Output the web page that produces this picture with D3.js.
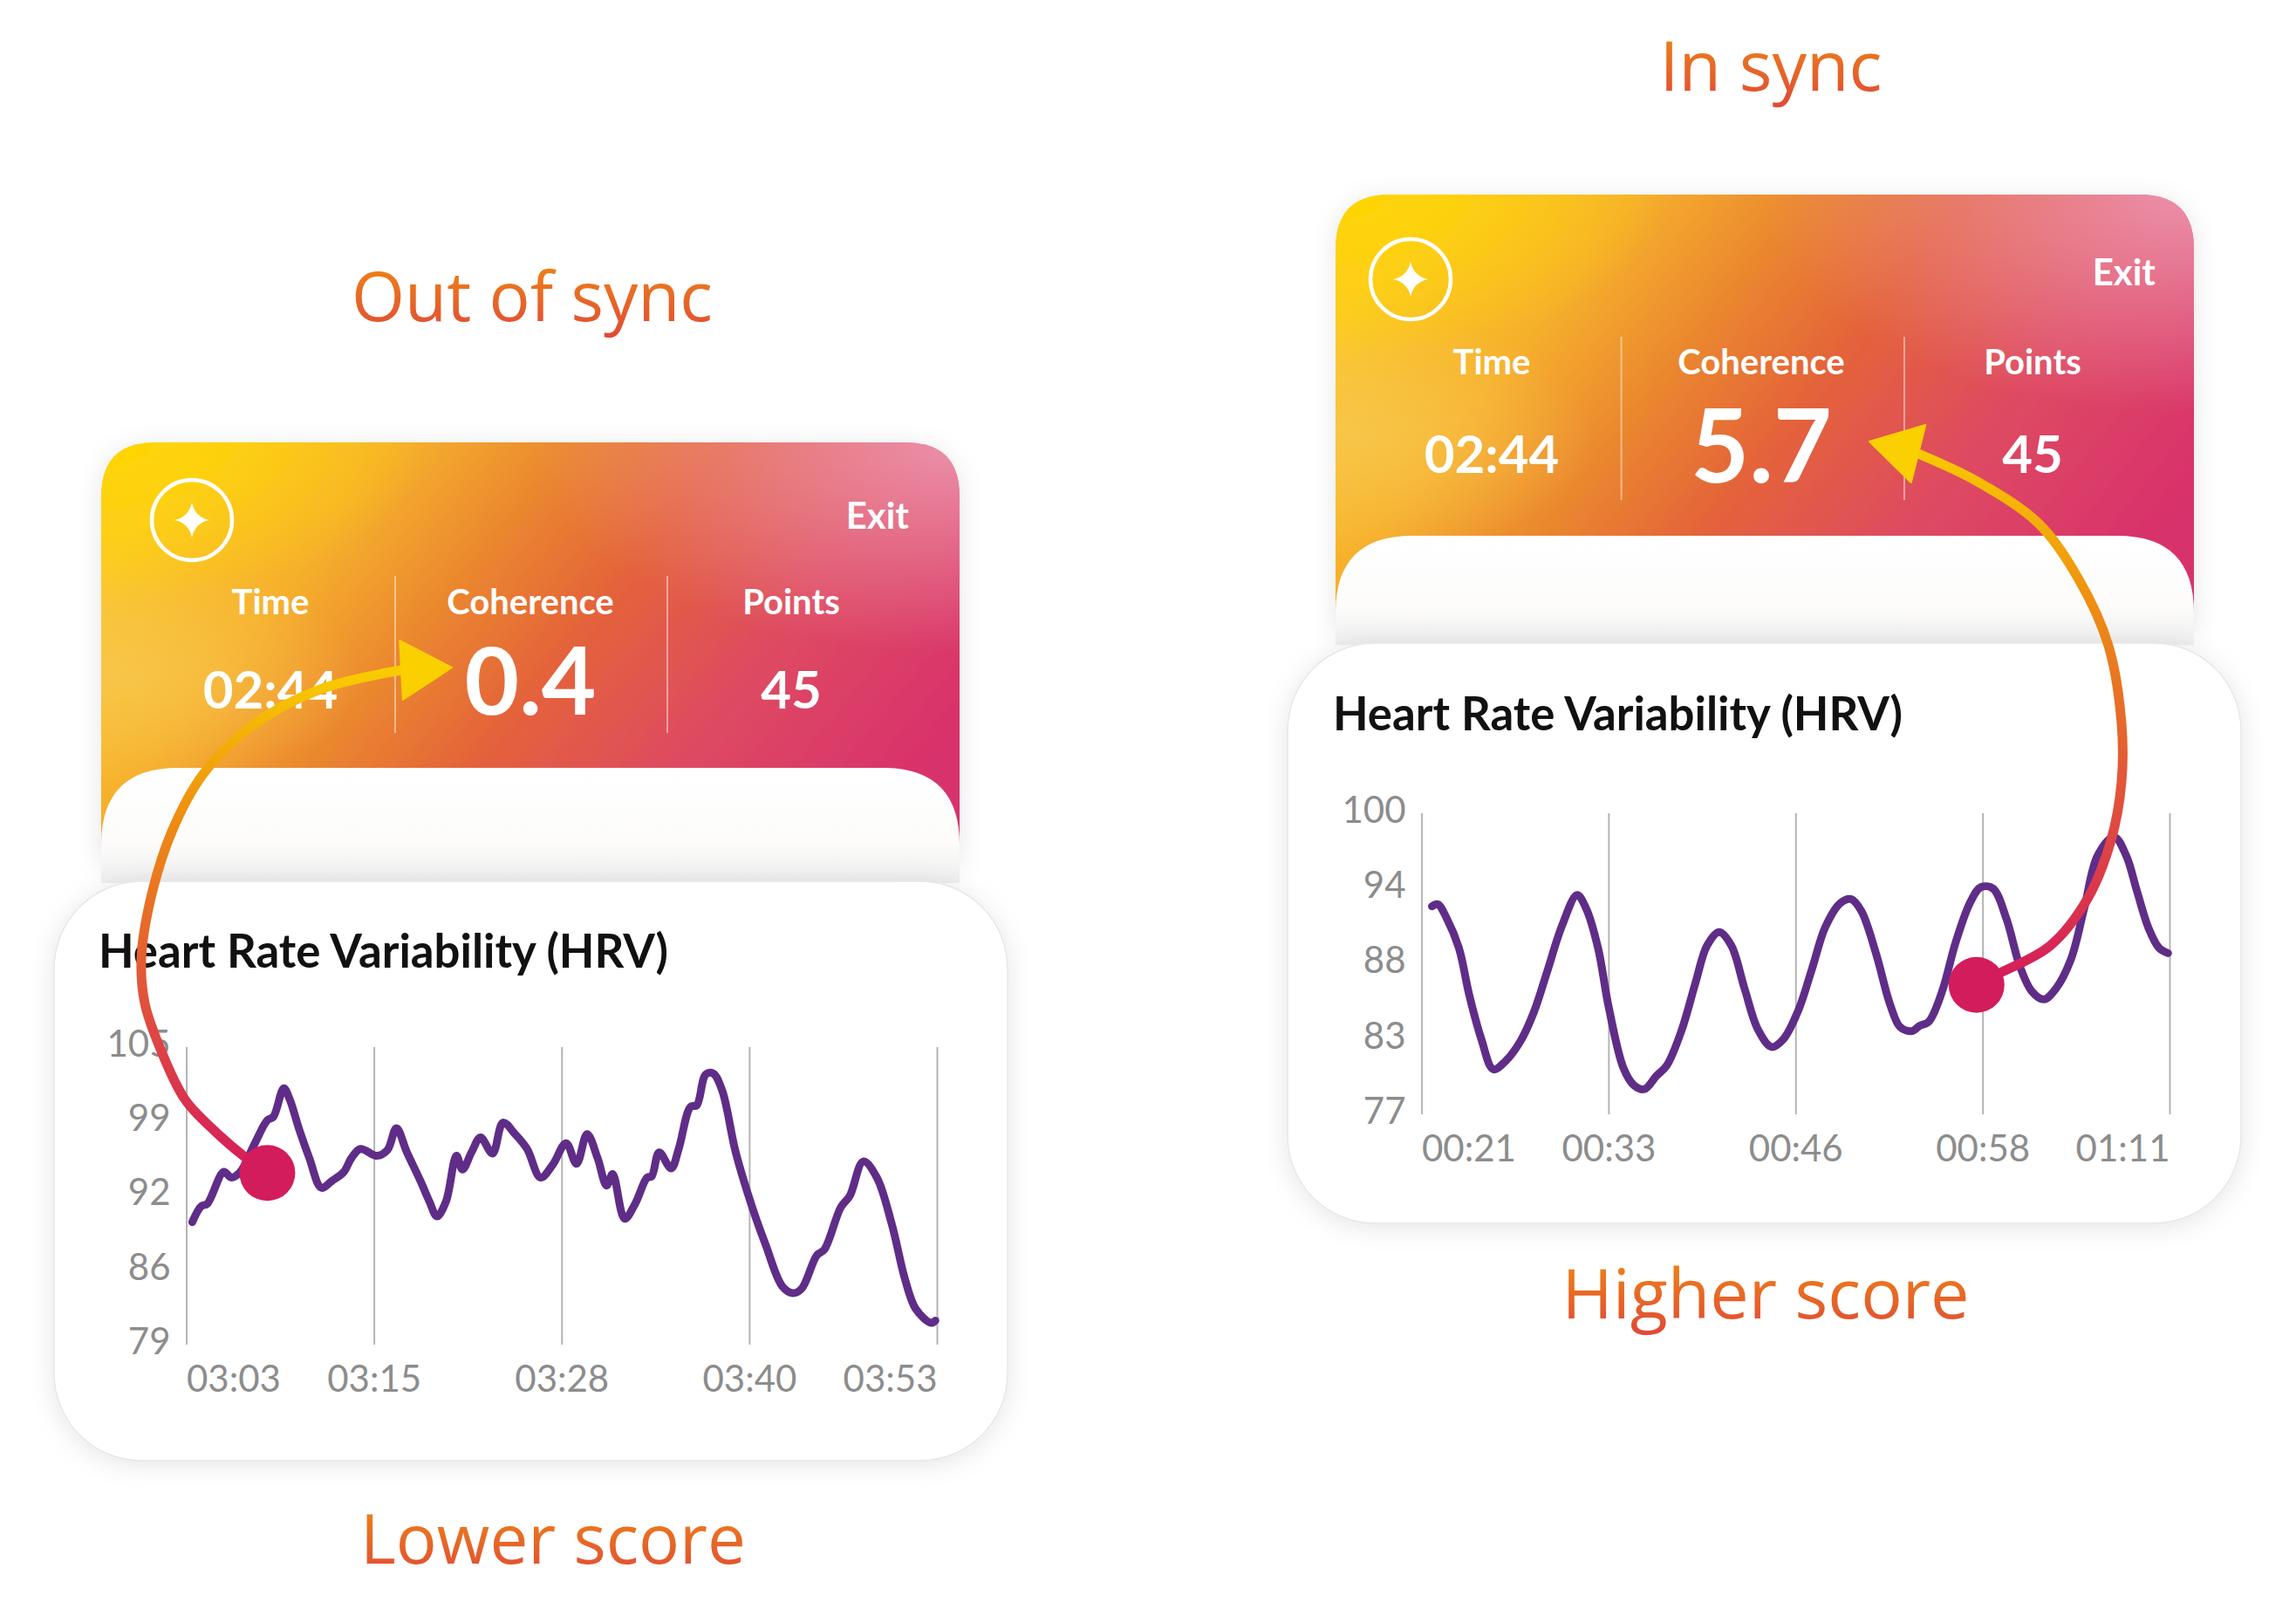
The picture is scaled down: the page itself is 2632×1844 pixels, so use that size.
<!DOCTYPE html>
<html>
<head>
<meta charset="utf-8">
<script src="https://cdn.jsdelivr.net/npm/d3@7"></script>
<style>
  body { margin: 0; background: #fff; }
  svg { display: block; }
</style>
</head>
<body>
<svg id="chart"></svg>
<script>
// ---- data ----
var statNames = ["Time", "Coherence", "Points"];
var leftStatValues = ["02:44", "0.4", "45"];
var rightStatValues = ["02:44", "5.7", "45"];
var chartTitle = "Heart Rate Variability (HRV)";
var captions = ["Out of sync", "Lower score", "In sync", "Higher score"];

// out of sync session (seconds, bpm)
var leftSeconds = [183.4,184.0,184.4,185.5,186.0,186.6,187.5,188.4,188.8,189.5,189.9,190.5,191.2,192.0,192.7,193.5,194.0,194.6,195.7,196.4,197.0,197.7,198.6,199.2,199.7,200.3,201.0,201.4,202.0,202.6,203.4,204.1,204.9,205.7,206.6,207.4,208.3,209.0,209.7,210.4,211.0,211.4,212.2,212.9,213.7,214.0,214.5,215.3,215.8,216.6,217.0,217.6,218.1,218.7,219.6,220.7,221.6,222.7,223.4,224.0,225.0,225.5,226.6,227.2,228.1,229.0,230.0,230.9,231.6,232.6,232.9];
var leftHrv = [89.7,91.1,91.3,94.1,93.6,94.1,96.4,98.6,98.9,101.4,100.4,97.9,95.3,92.7,93.3,94.1,95.3,96.1,95.5,96.0,97.9,95.8,93.3,91.5,90.2,91.5,95.5,94.3,95.8,97.1,95.7,98.4,97.4,96.1,93.6,94.7,96.6,94.8,97.4,95.3,92.9,93.9,90.0,91.3,93.6,93.7,95.8,94.4,96.1,99.8,99.9,102.6,102.7,101.2,95.8,91.0,87.7,84.1,83.5,83.9,86.8,87.3,91.0,92.0,95.0,93.6,89.5,84.6,82.1,80.9,81.1];
var leftXDomain = [183, 233];
var leftYDomain = [79, 105];
var leftXLabels = ["03:03", "03:15", "03:28", "03:40", "03:53"];
var leftYLabels = ["79", "86", "92", "99", "105"];
var leftMarker = [188.4, 94.0];

// in sync session
var rightSeconds = [21.7,22.1,22.7,23.5,24.2,25.0,25.8,26.6,27.6,28.5,29.4,30.4,31.4,32.0,32.8,33.5,34.5,35.2,35.9,36.7,37.4,38.4,39.3,40.1,40.9,41.7,42.6,43.5,44.4,45.2,46.2,47.1,48.0,49.0,49.7,50.4,51.4,52.3,53.0,53.8,54.3,54.9,55.8,56.7,57.7,58.4,59.2,60.1,61.0,61.8,62.6,63.4,64.4,65.3,66.2,67.3,68.1,68.8,69.6,70.3,70.9];
var rightHrv = [92.75,92.9,91.8,89.6,86.0,82.7,80.4,81.0,82.5,84.7,87.8,91.3,93.6,92.6,89.6,85.2,80.5,79.2,78.9,79.9,80.7,83.4,86.9,89.8,90.8,89.8,86.5,83.4,82.1,82.7,84.9,88.0,91.2,93.0,93.3,92.4,89.1,85.4,83.6,83.3,83.7,84.0,86.3,90.0,93.1,94.2,94.1,91.8,88.2,86.3,85.7,86.5,88.7,92.6,96.6,98.0,96.6,94.0,91.1,89.6,89.2];
var rightXDomain = [21, 71];
var rightYDomain = [77, 99.8];
var rightXLabels = ["00:21", "00:33", "00:46", "00:58", "01:11"];
var rightYLabels = ["77", "83", "88", "94", "100"];
var rightMarker = [58.1, 86.8];

// ---- layout ----
var W = 2632, H = 1844;
var svg = d3.select("#chart").attr("width", W).attr("height", H)
  .attr("viewBox", "0 0 " + W + " " + H);
var defs = svg.append("defs");

function addStops(grad, stops) {
  stops.forEach(function(s) {
    grad.append("stop").attr("offset", s[0]).attr("stop-color", s[1])
      .attr("stop-opacity", s[2] == null ? 1 : s[2]);
  });
}

addStops(defs.append("linearGradient").attr("id", "hdrBase")
  .attr("x1", 0).attr("y1", 0.3).attr("x2", 1).attr("y2", 0.7),
  [[0, "#fbc92a"], [0.2, "#f6b02c"], [0.38, "#ea852f"], [0.53, "#e4633a"], [0.74, "#de4a62"], [1, "#d8306c"]]);
addStops(defs.append("radialGradient").attr("id", "hdrPink")
  .attr("cx", 1).attr("cy", 0).attr("r", 0.5),
  [[0, "#efa2bb", 0.8], [1, "#efa2bb", 0]]);
addStops(defs.append("radialGradient").attr("id", "hdrYellow")
  .attr("cx", 0).attr("cy", 0).attr("r", 0.38),
  [[0, "#ffd600", 1], [1, "#ffd600", 0]]);
addStops(defs.append("radialGradient").attr("id", "hdrLeft")
  .attr("cx", 0.02).attr("cy", 0.55).attr("r", 0.28),
  [[0, "#f8c852", 0.75], [1, "#f8c852", 0]]);
addStops(defs.append("linearGradient").attr("id", "sheetGrad")
  .attr("x1", 0).attr("y1", 0).attr("x2", 0).attr("y2", 1),
  [[0, "#ffffff"], [0.65, "#fdfcfb"], [1, "#eeeeee"]]);
addStops(defs.append("linearGradient").attr("id", "capGrad")
  .attr("x1", 0).attr("y1", 0).attr("x2", 0).attr("y2", 1),
  [[0, "#f19010"], [1, "#df4638"]]);

var shadow = defs.append("filter").attr("id", "shadow")
  .attr("x", -0.1).attr("y", -0.1).attr("width", 1.2).attr("height", 1.3);
shadow.append("feDropShadow").attr("dx", 0).attr("dy", 4).attr("stdDeviation", 14)
  .attr("flood-color", "#000").attr("flood-opacity", 0.1);

function topRounded(x, y, w, h, r) {
  return "M" + x + "," + (y + h) + "V" + (y + r) + "Q" + x + "," + y + " " + (x + r) + "," + y +
    "H" + (x + w - r) + "Q" + (x + w) + "," + y + " " + (x + w) + "," + (y + r) + "V" + (y + h) + "Z";
}

function fitWidth(sel, target) {
  var w = sel.node().getComputedTextLength();
  var fs = parseFloat(sel.attr("font-size"));
  sel.attr("font-size", fs * target / w);
}

var panels = [
  { id: "L", hx: 116, hy: 507, hw: 984, sheetY: 880, cx: 62, cy: 1010, cw: 1093, ch: 664,
    icon: [220, 596], exit: [1042, 591], labelY: 690, valueY: 791, bigY: 780, bigSize: 108,
    cols: [310, 608, 907], divX: [453, 765], divY: [660, 840],
    title: [113, 1109], plot: [213.5, 1074, 1200, 1541],
    stats: leftStatValues, secs: leftSeconds, hrv: leftHrv, xDom: leftXDomain, yDom: leftYDomain,
    xLab: leftXLabels, yLab: leftYLabels, marker: leftMarker,
    arrow: [[282,1327],[247,1297],[212,1260],[183,1200],[166,1150],[162,1100],[172,1033],[197,953],[233,887],[287,833],[367,790],[460,768]],
    tip: [518, 765] },
  { id: "R", hx: 1531, hy: 223, hw: 984, sheetY: 614, cx: 1476, cy: 737, cw: 1093, ch: 665,
    icon: [1617, 320], exit: [2471, 312], labelY: 415, valueY: 521, bigY: 511, bigSize: 116,
    cols: [1710, 2019, 2330], divX: [1858.6, 2183], divY: [386, 573],
    title: [1528, 837], plot: [1629.5, 2487, 932, 1277],
    stats: rightStatValues, secs: rightSeconds, hrv: rightHrv, xDom: rightXDomain, yDom: rightYDomain,
    xLab: rightXLabels, yLab: rightYLabels, marker: rightMarker,
    arrow: [[2293,1115],[2350,1084],[2393,1030],[2420,963],[2432,896],[2432,829],[2417,740],[2383,664],[2337,600],[2267,552],[2199,520]],
    tip: [2143, 506] }
];

var capH = 0.7165; // Lato cap height ratio

panels.forEach(function(p) {
  var g = svg.append("g").attr("class", "panel-" + p.id);

  // header card
  var hdr = g.append("g").attr("filter", "url(#shadow)");
  var hh = p.sheetY + 110 - p.hy;
  ["hdrBase", "hdrLeft", "hdrYellow", "hdrPink"].forEach(function(id) {
    hdr.append("path").attr("d", topRounded(p.hx, p.hy, p.hw, hh, 62))
      .attr("fill", "url(#" + id + ")");
  });
  g.append("path").attr("d", topRounded(p.hx, p.sheetY, p.hw, p.cy + 2 - p.sheetY, 88))
    .attr("fill", "url(#sheetGrad)");

  // icon
  g.append("circle").attr("cx", p.icon[0]).attr("cy", p.icon[1]).attr("r", 46)
    .attr("fill", "none").attr("stroke", "#fff").attr("stroke-width", 4.5);
  var s = 20, k = 3.5;
  g.append("path").attr("transform", "translate(" + p.icon[0] + "," + p.icon[1] + ")")
    .attr("d", "M0," + (-s) + "Q" + k + "," + (-k) + " " + s + ",0Q" + k + "," + k + " 0," + s +
      "Q" + (-k) + "," + k + " " + (-s) + ",0Q" + (-k) + "," + (-k) + " 0," + (-s) + "Z")
    .attr("fill", "#fff");

  g.append("text").attr("x", p.exit[0]).attr("y", p.exit[1] + 42 * capH / 2)
    .attr("text-anchor", "end").attr("font-family", "Lato").attr("font-weight", 700)
    .attr("font-size", 42).attr("fill", "#fff").text("Exit");

  g.selectAll(".div").data(p.divX).enter().append("line")
    .attr("x1", function(d) { return d; }).attr("x2", function(d) { return d; })
    .attr("y1", p.divY[0]).attr("y2", p.divY[1])
    .attr("stroke", "#fff").attr("stroke-opacity", 0.45).attr("stroke-width", 2);

  g.selectAll(".statName").data(statNames).enter().append("text")
    .attr("x", function(d, i) { return p.cols[i]; })
    .attr("y", p.labelY + 40 * capH / 2)
    .attr("text-anchor", "middle").attr("font-family", "Lato").attr("font-weight", 700)
    .attr("font-size", 40).attr("fill", "#fff").text(function(d) { return d; });

  g.selectAll(".statVal").data(p.stats).enter().append("text")
    .attr("x", function(d, i) { return p.cols[i]; })
    .attr("y", function(d, i) { return i === 1 ? p.bigY + p.bigSize * capH / 2 : p.valueY + 60 * capH / 2; })
    .attr("text-anchor", "middle").attr("font-family", "Lato").attr("font-weight", 700)
    .attr("font-size", function(d, i) { return i === 1 ? p.bigSize : 60; })
    .attr("fill", "#fff").text(function(d) { return d; });

  // chart card
  g.append("rect").attr("x", p.cx).attr("y", p.cy).attr("width", p.cw).attr("height", p.ch)
    .attr("rx", 100).attr("fill", "#fff").attr("stroke", "#e6e6e6").attr("stroke-width", 1.5)
    .attr("filter", "url(#shadow)");

  var title = g.append("text").attr("x", p.title[0]).attr("y", p.title[1])
    .attr("font-family", "Lato").attr("font-weight", 700).attr("font-size", 52)
    .attr("fill", "#111").text(chartTitle);
  fitWidth(title, 653);

  var x = d3.scaleLinear().domain(p.xDom).range([p.plot[0], p.plot[1]]);
  var y = d3.scaleLinear().domain(p.yDom).range([p.plot[3], p.plot[2]]);
  var xt = d3.range(5).map(function(i) { return p.xDom[0] + i * (p.xDom[1] - p.xDom[0]) / 4; });
  var yt = d3.range(5).map(function(i) { return p.yDom[0] + i * (p.yDom[1] - p.yDom[0]) / 4; });

  var xa = g.append("g").attr("transform", "translate(0," + p.plot[3] + ")")
    .call(d3.axisBottom(x).tickValues(xt).tickSize(-(p.plot[3] - p.plot[2])).tickPadding(24)
      .tickFormat(function(d, i) { return p.xLab[i]; }));
  xa.select(".domain").remove();
  xa.selectAll("line").attr("stroke", "#b4b4b4").attr("stroke-width", 2);
  xa.selectAll("text").attr("font-family", "Lato").attr("font-size", 42).attr("fill", "#8c8c8c")
    .attr("text-anchor", function(d, i) { return i === 0 ? "start" : (i === 4 ? "end" : "middle"); });

  var ya = g.append("g").attr("transform", "translate(" + p.plot[0] + ",-3)")
    .call(d3.axisLeft(y).tickValues(yt).tickSize(0).tickPadding(18)
      .tickFormat(function(d, i) { return p.yLab[i]; }));
  ya.select(".domain").remove();
  ya.selectAll("text").attr("font-family", "Lato").attr("font-size", 42).attr("fill", "#8c8c8c");

  var line = d3.line()
    .x(function(d, i) { return x(p.secs[i]); })
    .y(function(d) { return y(d); })
    .curve(d3.curveCatmullRom.alpha(0.5));
  g.append("path").datum(p.hrv).attr("d", line)
    .attr("fill", "none").attr("stroke", "#5f2d88").attr("stroke-width", 9)
    .attr("stroke-linecap", "round").attr("stroke-linejoin", "round");

  // arrow from marker to coherence value
  var mx = x(p.marker[0]), my = y(p.marker[1]);
  var pts = [[mx, my]].concat(p.arrow);
  var ys = pts.map(function(d) { return d[1]; }).concat([p.tip[1]]);
  var gid = "arrowGrad" + p.id;
  addStops(defs.append("linearGradient").attr("id", gid).attr("gradientUnits", "userSpaceOnUse")
    .attr("x1", 0).attr("y1", d3.min(ys)).attr("x2", 0).attr("y2", d3.max(ys)),
    [[0, "#f9cd00"], [0.3, "#ee8d12"], [0.6, "#e35a36"], [1, "#d41c5c"]]);
  g.append("path").attr("d", d3.line().curve(d3.curveCatmullRom.alpha(0.5))(pts))
    .attr("fill", "none").attr("stroke", "url(#" + gid + ")").attr("stroke-width", 11)
    .attr("stroke-linecap", "round");
  var base = p.arrow[p.arrow.length - 1];
  var dx = p.tip[0] - base[0], dy = p.tip[1] - base[1];
  var len = Math.sqrt(dx * dx + dy * dy), nx = -dy / len * 34, ny = dx / len * 34;
  g.append("path")
    .attr("d", "M" + p.tip[0] + "," + p.tip[1] + "L" + (base[0] + nx) + "," + (base[1] + ny) +
      "L" + (base[0] - nx) + "," + (base[1] - ny) + "Z")
    .attr("fill", "#fad000").attr("stroke", "#fad000").attr("stroke-width", 2)
    .attr("stroke-linejoin", "round");

  g.append("circle").attr("cx", mx).attr("cy", my).attr("r", 32).attr("fill", "#d31c5c");
});

// captions
var capPos = [[610, 368, 414], [634, 1792, 442], [2030, 104, 255], [2024, 1511, 467]];
captions.forEach(function(c, i) {
  var t = svg.append("text").attr("x", capPos[i][0]).attr("y", capPos[i][1])
    .attr("text-anchor", "middle").attr("font-family", "Open Sans").attr("font-size", 83)
    .attr("fill", "url(#capGrad)").text(c);
  fitWidth(t, capPos[i][2]);
});
</script>
</body>
</html>
